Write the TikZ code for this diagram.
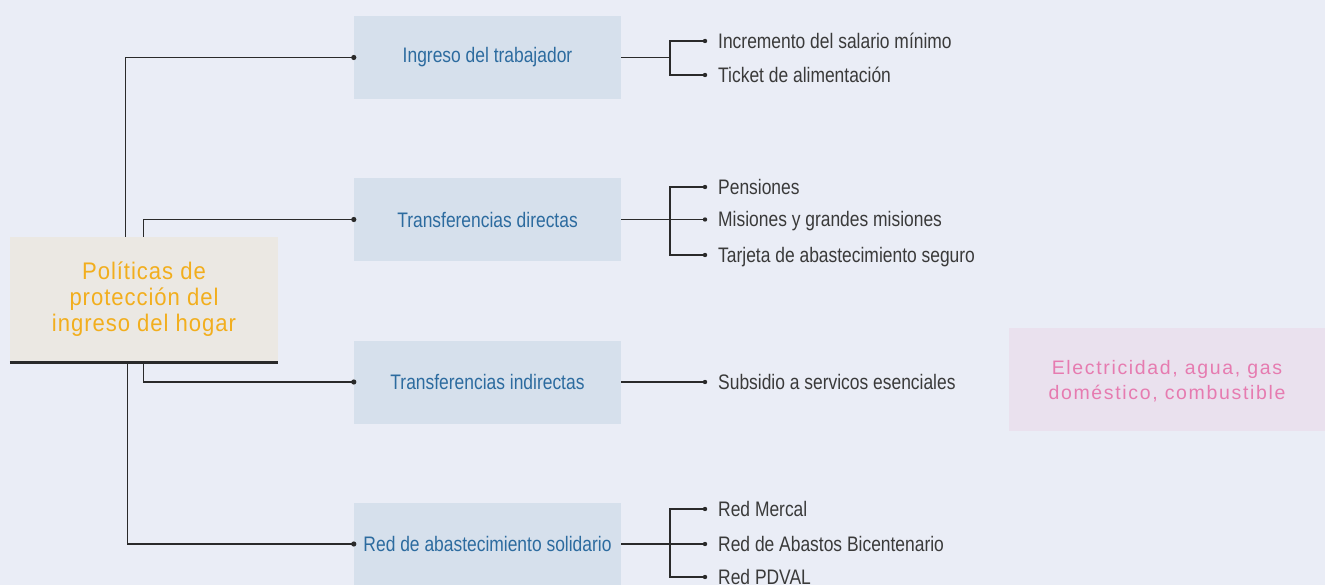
\documentclass[tikz,border=0pt]{standalone}
\usepackage{fontspec}
\setmainfont{Liberation Sans}[FakeStretch=0.83]
\newfontfamily\mainfont{Liberation Sans}[FakeStretch=0.92, LetterSpace=4]
\newfontfamily\pinkfont{Liberation Sans}[LetterSpace=8.5]
\definecolor{bgc}{HTML}{EAEDF6}
\definecolor{mainfill}{HTML}{EBE8E3}
\definecolor{orangetxt}{HTML}{F2AE1D}
\definecolor{bluebox}{HTML}{D6E0EC}
\definecolor{bluetxt}{HTML}{2C6B9F}
\definecolor{pinkbox}{HTML}{EAE1EE}
\definecolor{pinktxt}{HTML}{E67BB0}
\definecolor{linec}{HTML}{2A2A2A}
\definecolor{itemtxt}{HTML}{3A3A3A}
\tikzset{
  mainbox/.style={fill=mainfill, minimum width=268pt, minimum height=125pt, inner sep=0pt,
    align=center, text=orangetxt, font=\mainfont\fontsize{24}{26}\selectfont},
  catbox/.style={fill=bluebox, minimum width=267pt, minimum height=83pt, inner sep=0pt,
    text=bluetxt, font=\fontsize{21}{24}\selectfont},
  itemnode/.style={anchor=west, inner sep=0pt, text height=15pt, text depth=0pt,
    text=itemtxt, font=\fontsize{21}{24}\selectfont},
  notebox/.style={fill=pinkbox, minimum width=316pt, minimum height=103pt, inner sep=0pt},
  notetext/.style={inner sep=0pt, align=center, text=pinktxt,
    font=\pinkfont\fontsize{19.5}{25}\selectfont},
  conn/.style={draw=linec, line width=1.3pt},
  dotc/.style={fill=linec},
}
\begin{document}
\begin{tikzpicture}[x=1pt,y=-1pt]
\useasboundingbox (0,0) rectangle (1325,585);
\fill[bgc] (0,0) rectangle (1325,585);

\node[mainbox] (main) at (144,299.5) {Políticas de\\protección del\\ingreso del hogar};
\draw[linec, line width=3pt] (main.south west) -- (main.south east);

\node[catbox] (b1) at (487.5,57.5) {Ingreso del trabajador};
\node[catbox] (b2) at (487.5,219.5) {Transferencias directas};
\node[catbox] (b3) at (487.5,382) {Transferencias indirectas};
\node[catbox] (b4) at (487.5,544) {Red de abastecimiento solidario};

\node[notebox] (note) at (1167,379.5) {};
\node[notetext] (notet) at ([yshift=-2pt]note.center) {Electricidad, agua, gas\\doméstico, combustible};

% left connectors
\draw[conn] ([xshift=116pt]main.north west) |- (b1.west);
\draw[conn] ([xshift=134pt]main.north west) |- (b2.west);
\draw[conn] ([xshift=134pt]main.south west) |- (b3.west);
\draw[conn] ([xshift=118pt]main.south west) |- (b4.west);
\foreach \b in {b1,b2,b3,b4} \fill[dotc] (\b.west) circle (2.6pt);

% item coordinates
\coordinate (d11) at (705,41);
\coordinate (d12) at (705,75);
\coordinate (d21) at (705,187);
\coordinate (d22) at (705,219.5);
\coordinate (d23) at (705,255);
\coordinate (d31) at (705,382);
\coordinate (d41) at (705,509);
\coordinate (d42) at (705,544);
\coordinate (d43) at (705,577);

\node[itemnode] (i11) at ([xshift=13pt]d11) {Incremento del salario mínimo};
\node[itemnode] (i12) at ([xshift=13pt]d12) {Ticket de alimentación};
\node[itemnode] (i21) at ([xshift=13pt]d21) {Pensiones};
\node[itemnode] (i22) at ([xshift=13pt]d22) {Misiones y grandes misiones};
\node[itemnode] (i23) at ([xshift=13pt]d23) {Tarjeta de abastecimiento seguro};
\node[itemnode] (i31) at ([xshift=13pt]d31) {Subsidio a servicos esenciales};
\node[itemnode] (i41) at ([xshift=13pt]d41) {Red Mercal};
\node[itemnode] (i42) at ([xshift=13pt]d42) {Red de Abastos Bicentenario};
\node[itemnode] (i43) at ([xshift=13pt]d43) {Red PDVAL};

% right connectors
\coordinate (k1) at (670,57.5);
\coordinate (k2) at (670,219.5);
\coordinate (k4) at (670,544);
\draw[conn] (b1.east) -- (k1);
\draw[conn] (k1) |- (d11);
\draw[conn] (k1) |- (d12);
\draw[conn] (b2.east) -- (d22);
\draw[conn] (k2) |- (d21);
\draw[conn] (k2) |- (d23);
\draw[conn] (b3.east) -- (d31);
\draw[conn] (b4.east) -- (d42);
\draw[conn] (k4) |- (d41);
\draw[conn] (k4) |- (d43);
\foreach \d in {d11,d12,d21,d22,d23,d31,d41,d42,d43} \fill[dotc] (\d) circle (2.2pt);
\end{tikzpicture}
\end{document}
